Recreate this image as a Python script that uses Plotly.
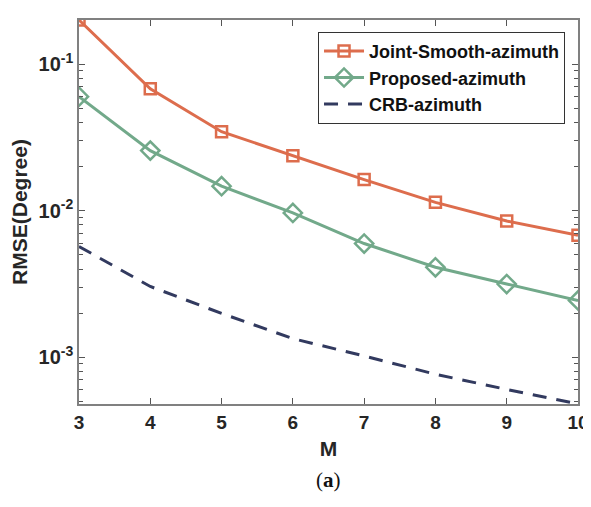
import plotly.graph_objects as go

M = [3, 4, 5, 6, 7, 8, 9, 10]
joint_smooth = [0.200, 0.0679, 0.0346, 0.0237, 0.0163, 0.0114, 0.0085, 0.0068]
proposed = [0.0600, 0.0257, 0.0147, 0.00965, 0.00597, 0.00411, 0.00316, 0.00244]
crb = [0.0057, 0.00304, 0.00199, 0.00134, 0.00102, 0.000766, 0.000603, 0.00048]

ytick_vals = [1e-3, 1e-2, 1e-1]
ytick_text = ["10<sup>-3</sup>", "10<sup>-2</sup>", "10<sup>-1</sup>"]
minor_vals = [5e-4, 6e-4, 7e-4, 8e-4, 9e-4,
              2e-3, 3e-3, 4e-3, 5e-3, 6e-3, 7e-3, 8e-3, 9e-3,
              2e-2, 3e-2, 4e-2, 5e-2, 6e-2, 7e-2, 8e-2, 9e-2, 0.2]

c_orange = "#DD6D4D"
c_green = "#72A98A"
c_navy = "#323A5F"
FAM = "Liberation Sans, Arial, sans-serif"

fig = go.Figure()
fig.add_trace(go.Scatter(x=M, y=joint_smooth, name="Joint-Smooth-azimuth",
                         mode="lines+markers",
                         line=dict(color=c_orange, width=3),
                         marker=dict(symbol="square-open", size=11, color=c_orange,
                                     line=dict(width=2.5, color=c_orange))))
fig.add_trace(go.Scatter(x=M, y=proposed, name="Proposed-azimuth",
                         mode="lines+markers",
                         line=dict(color=c_green, width=3),
                         marker=dict(symbol="diamond-open", size=14, color=c_green,
                                     line=dict(width=2.5, color=c_green))))
fig.add_trace(go.Scatter(x=M, y=crb, name="CRB-azimuth", mode="lines",
                         line=dict(color=c_navy, width=3, dash="14px,10px")))

fig.update_layout(
    width=583, height=499,
    margin=dict(l=71, r=13, t=12, b=103),
    paper_bgcolor="white", plot_bgcolor="white",
    font=dict(family=FAM, color="#262626"),
    showlegend=True,
    legend=dict(x=0.479, y=0.969, xanchor="left", yanchor="top",
                bgcolor="white", bordercolor="#333333", borderwidth=1,
                font=dict(size=18, family=FAM, color="#111111", weight="bold"),
                tracegroupgap=0, itemwidth=40),
    xaxis=dict(range=[3, 10], tickvals=M, ticks="inside", ticklen=6,
               tickcolor="#555555", showline=True, linecolor="#808080",
               linewidth=1.5, mirror="ticks", showgrid=False, zeroline=False,
               automargin=False,
               tickfont=dict(size=19, weight="bold", family=FAM, color="#262626"),
               title=dict(text="<b>M</b>", font=dict(size=21, color="#262626"), standoff=10)),
    yaxis=dict(type="log", range=[-3.319, -0.699], tickvals=ytick_vals,
               ticktext=ytick_text, ticks="inside", ticklen=6,
               tickcolor="#555555", showline=True, linecolor="#808080",
               linewidth=1.5, mirror="ticks", showgrid=False, zeroline=False,
               automargin=False,
               minor=dict(tickvals=minor_vals, ticks="inside", ticklen=4,
                          tickcolor="#555555", showgrid=False),
               tickfont=dict(size=20, weight="bold", family=FAM, color="#262626"),
               title=dict(text="<b>RMSE(Degree)</b>", font=dict(size=21, color="#262626"), standoff=8)),
)

fig.add_annotation(text="(<b>a</b>)", x=0.5, y=-0.198, xref="paper", yref="paper",
                   xanchor="center", yanchor="middle", showarrow=False,
                   font=dict(family="Liberation Serif, Times New Roman, serif", size=21, color="#111111"))

fig.write_html("out.html")
